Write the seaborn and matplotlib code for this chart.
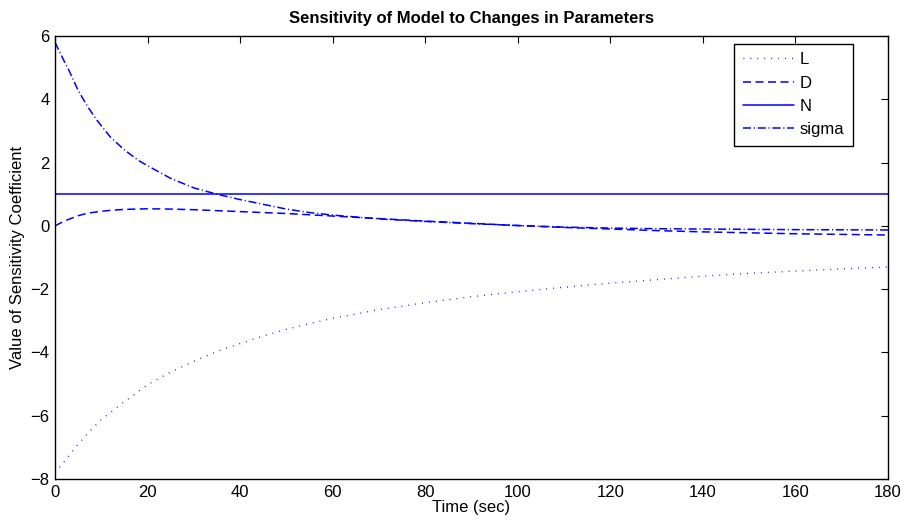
import matplotlib
matplotlib.use("Agg")
import matplotlib.pyplot as plt
import seaborn as sns
import pandas as pd

# ---- data ----
t_L = [0, 2, 5, 7, 10, 12, 15, 17, 20, 25, 30, 35, 40, 45, 50, 55, 60, 70, 80, 90, 100, 110, 120, 130, 140, 150, 160, 170, 180]
L = [-7.8, -7.45, -6.9, -6.57, -6.12, -5.9, -5.55, -5.35, -5.02, -4.62, -4.28, -3.97, -3.72, -3.48, -3.27, -3.09, -2.92, -2.65, -2.43, -2.24, -2.08, -1.94, -1.81, -1.70, -1.59, -1.50, -1.43, -1.36, -1.30]

t_D = [0, 2, 5, 7, 10, 12, 15, 20, 25, 30, 35, 40, 45, 50, 55, 60, 70, 80, 90, 100, 110, 120, 130, 140, 150, 160, 170, 180]
D = [0.0, 0.15, 0.32, 0.40, 0.46, 0.49, 0.52, 0.54, 0.53, 0.51, 0.48, 0.45, 0.42, 0.39, 0.35, 0.31, 0.23, 0.15, 0.08, 0.01, -0.05, -0.10, -0.15, -0.19, -0.22, -0.25, -0.27, -0.29]

t_N = [0, 180]
N = [1.0, 1.0]

t_S = [0, 2, 3, 5, 7, 9, 12, 15, 18, 20, 25, 30, 35, 40, 45, 50, 55, 60, 70, 80, 90, 100, 110, 120, 130, 140, 150, 160, 170, 180]
S = [5.8, 5.2, 4.92, 4.28, 3.78, 3.35, 2.8, 2.4, 2.07, 1.9, 1.5, 1.2, 1.0, 0.83, 0.68, 0.53, 0.42, 0.34, 0.22, 0.14, 0.07, 0.01, -0.04, -0.07, -0.09, -0.10, -0.11, -0.12, -0.125, -0.13]

x_ticks = [0, 20, 40, 60, 80, 100, 120, 140, 160, 180]
y_ticks = [-8, -6, -4, -2, 0, 2, 4, 6]

sns.set_theme(style="white")
plt.rcParams['font.family'] = ['Liberation Sans', 'DejaVu Sans']
plt.rcParams['lines.scale_dashes'] = False
plt.rcParams['text.color'] = 'black'
plt.rcParams['axes.labelcolor'] = 'black'
plt.rcParams['axes.titlecolor'] = 'black'

fig = plt.figure(figsize=(9.06, 5.25), dpi=100)
ax = fig.add_axes([55/906, 1-479/525, (888-55)/906, (479-36)/525])

blue = (0, 0, 1)
series = [
    (t_L, L, "L", (0, (0.6, 4.4)), 1.0),
    (t_D, D, "D", (0, (5.8, 3.2)), 1.1),
    (t_N, N, "N", "-", 1.1),
    (t_S, S, "sigma", (0, (5.8, 2.0, 0.8, 2.0)), 1.1),
]
for tx, vals, name, ls, lw in series:
    df = pd.DataFrame({"t": tx, "v": vals})
    sns.lineplot(data=df, x="t", y="v", ax=ax, color=blue, linestyle=ls,
                 linewidth=lw, label=name, estimator=None, sort=False)

ax.set_xlim(0, 180)
ax.set_ylim(-8, 6)
ax.set_xticks(x_ticks)
ax.set_yticks(y_ticks)
ax.set_yticklabels([("\u2212" + str(-v)) if v < 0 else str(v) for v in y_ticks])
ax.tick_params(direction="in", length=5, width=0.8, top=True, right=True,
               labelsize=12, colors="black", pad=4)
for s in ax.spines.values():
    s.set_color("black")
    s.set_linewidth(1.0)

ax.set_xlabel("Time (sec)", fontsize=12, labelpad=0, color="black")
ax.set_ylabel("Value of Sensitivity Coefficient", fontsize=12, labelpad=4, color="black")
ax.set_title("Sensitivity of Model to Changes in Parameters", fontsize=12,
             fontweight="bold", pad=9, color="black")

leg = ax.legend(loc="upper right", bbox_to_anchor=(0.958, 0.982), fontsize=12,
                frameon=True, fancybox=False, edgecolor="black", framealpha=1,
                handlelength=3.1, labelspacing=0.5, borderpad=0.5,
                handletextpad=0.35, borderaxespad=0)
leg.get_frame().set_linewidth(1.0)
for txt in leg.get_texts():
    txt.set_color("black")

fig.savefig("out.png", dpi=100)
